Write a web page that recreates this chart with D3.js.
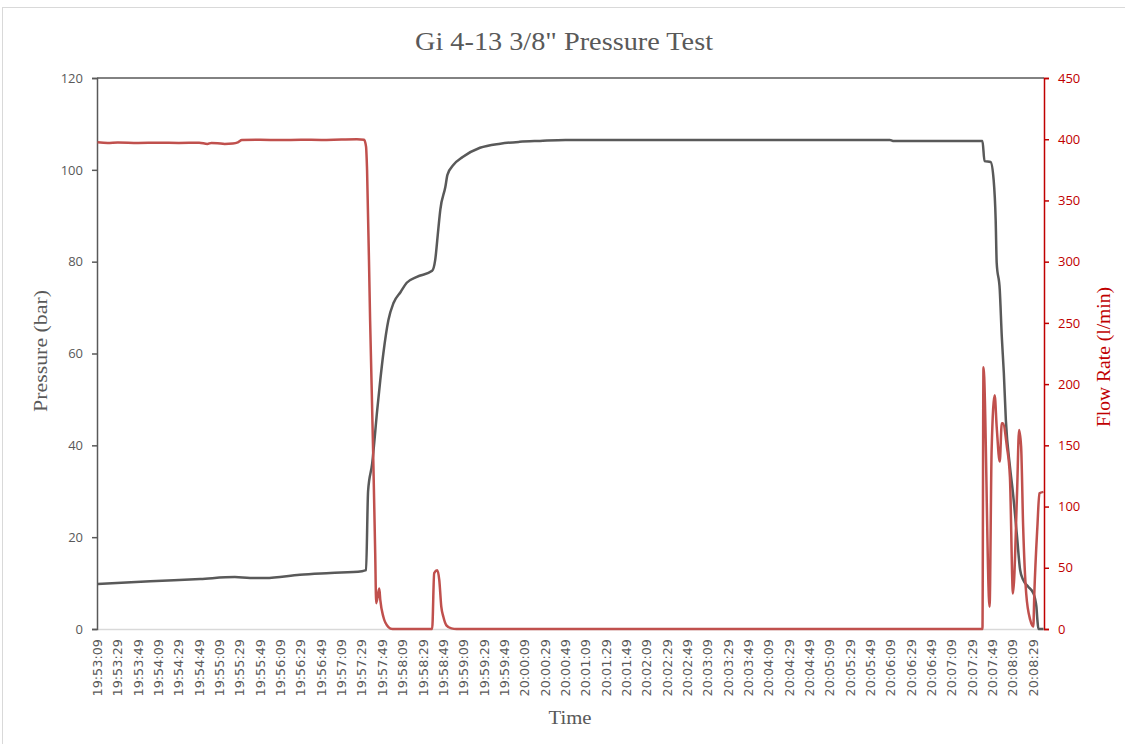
<!DOCTYPE html>
<html>
<head>
<meta charset="utf-8">
<script src="https://cdn.jsdelivr.net/npm/d3@7"></script>
<style>
  html, body { margin: 0; padding: 0; background: #ffffff; }
  svg { display: block; }
</style>
</head>
<body>
<svg id="chart" width="1125" height="744"></svg>
<script>
// ---------- DATA ----------
const chartTitle = "Gi 4-13 3/8\" Pressure Test";
const startTime = "19:53:09";

// x tick labels (every 20 s)
const timeLabels = [
  "19:53:09","19:53:29","19:53:49","19:54:09","19:54:29","19:54:49","19:55:09","19:55:29",
  "19:55:49","19:56:09","19:56:29","19:56:49","19:57:09","19:57:29","19:57:49","19:58:09",
  "19:58:29","19:58:49","19:59:09","19:59:29","19:59:49","20:00:09","20:00:29","20:00:49",
  "20:01:09","20:01:29","20:01:49","20:02:09","20:02:29","20:02:49","20:03:09","20:03:29",
  "20:03:49","20:04:09","20:04:29","20:04:49","20:05:09","20:05:29","20:05:49","20:06:09",
  "20:06:29","20:06:49","20:07:09","20:07:29","20:07:49","20:08:09","20:08:29"
];
const pressureTicks = [0, 20, 40, 60, 80, 100, 120];
const flowTicks = [0, 50, 100, 150, 200, 250, 300, 350, 400, 450];

// Pressure (bar): seconds after 19:53:09, value
const pressureSec = [0, 52, 101, 135, 150, 165, 199, 229, 260, 264, 266, 270, 275, 278, 281, 286, 291, 298, 304, 314, 329,
  332, 335, 337, 342, 344, 350, 359, 376, 396, 415, 435, 460, 779, 782, 870, 872, 878, 881, 883, 884, 887, 889, 891,
  893, 897, 900, 904, 907, 910, 915, 920, 923, 924, 925, 930];
const pressureVal = [9.8, 10.4, 10.9, 11.3, 11.1, 11.1, 11.8, 12.2, 12.6, 12.8, 30, 36, 47.7, 54.2, 60, 67.3, 71, 73.4, 75.4, 76.7, 78,
  80.4, 87, 91.3, 96.3, 98.9, 101.1, 102.8, 104.8, 105.7, 106.1, 106.3, 106.5, 106.5, 106.3, 106.3, 101.9, 101.7, 97.8, 89, 79.7, 73.9, 63.7, 55.8,
  45.5, 35.4, 29.6, 20.1, 12.9, 10.7, 9.2, 7.8, 4.9, 2, 0, 0];

// Flow rate (l/min): seconds after 19:53:09, value
const flowSec = [0, 10, 20, 40, 60, 80, 100, 108, 112, 118, 125, 133, 138, 142, 160, 180, 200, 220, 240, 255, 262,
  264, 265, 268, 271, 273, 274, 277, 278, 281, 286, 290, 329, 331, 334, 336, 338, 340, 343, 348, 353,
  870, 871, 877, 879, 882, 884, 887, 889, 890, 894, 897, 900, 904, 906, 908, 910, 913, 917, 920, 921, 924, 926, 930];
const flowVal = [397.5, 397, 397.3, 397, 397.2, 397, 397.2, 396.2, 397, 396.8, 396.2, 396.5, 397.5, 399.3, 399.5, 399.3, 399.6, 399.4, 399.8, 400, 399.6,
  394, 375, 252, 143.6, 62, 21, 33, 23.7, 10, 1.6, 0, 0, 45.7, 48, 40, 18, 10, 3, 0.5, 0,
  0, 213.7, 18.2, 146, 191, 165, 136.7, 168, 168, 149, 124, 29, 110.8, 162.5, 149, 83.6, 29, 7.3, 2, 29, 83.6, 110.8, 112];

// ---------- LAYOUT ----------
const W = 1125, H = 744;
const plot = { left: 97, right: 1044, top: 78, bottom: 629 };
const grayText = "#595959";
const redAxis = "#C00000";
const pressureColor = "#595959";
const flowColor = "#C0504D";

const svg = d3.select("#chart");

// chart frame
svg.append("rect").attr("x", 2.5).attr("y", 7.5).attr("width", W + 10).attr("height", H + 10)
  .attr("fill", "#ffffff").attr("stroke", "#d9d9d9").attr("stroke-width", 1);

const x = d3.scaleLinear().domain([-0.5, 930.5]).range([plot.left, plot.right]);
const yL = d3.scaleLinear().domain([0, 120]).range([plot.bottom, plot.top]);
const yR = d3.scaleLinear().domain([0, 450]).range([plot.bottom, plot.top]);

// Title
svg.append("text").attr("x", 564).attr("y", 50).attr("text-anchor", "middle")
  .attr("font-family", "'Liberation Serif', serif").attr("font-size", 25)
  .attr("textLength", 298).attr("lengthAdjust", "spacingAndGlyphs")
  .attr("fill", grayText).text(chartTitle);

// bottom category axis line (light gray)
svg.append("line").attr("x1", plot.left).attr("x2", plot.right)
  .attr("y1", plot.bottom + 0.5).attr("y2", plot.bottom + 0.5)
  .attr("stroke", "#d9d9d9").attr("stroke-width", 1.5);

// top secondary axis line (dark gray)
svg.append("line").attr("x1", plot.left).attr("x2", plot.right)
  .attr("y1", plot.top).attr("y2", plot.top)
  .attr("stroke", grayText).attr("stroke-width", 1.5);

// x tick labels
const xLab = svg.append("g");
timeLabels.forEach((lab, i) => {
  const px = x(i * 20) + 4.5;
  xLab.append("text")
    .attr("transform", `translate(${px},639) rotate(-90)`)
    .attr("text-anchor", "end")
    .attr("font-family", "'DejaVu Sans', sans-serif").attr("font-size", 12.8)
    .attr("fill", grayText).text(lab);
});

// left axis
const leftAxis = d3.axisLeft(yL).tickValues(pressureTicks).tickSize(5).tickPadding(9);
const gL = svg.append("g").attr("transform", `translate(${plot.left},0)`).call(leftAxis);
gL.select(".domain").attr("stroke", grayText).attr("stroke-width", 1.5);
gL.selectAll(".tick line").attr("stroke", grayText).attr("stroke-width", 1.5);
gL.selectAll(".tick text").attr("fill", grayText)
  .attr("font-family", "'Open Sans', sans-serif").attr("font-size", 13);

// right axis
const rightAxis = d3.axisRight(yR).tickValues(flowTicks).tickSize(5).tickPadding(9);
const gR = svg.append("g").attr("transform", `translate(${plot.right},0)`).call(rightAxis);
gR.select(".domain").attr("stroke", redAxis).attr("stroke-width", 1.5);
gR.selectAll(".tick line").attr("stroke", redAxis).attr("stroke-width", 1.5);
gR.selectAll(".tick text").attr("fill", redAxis)
  .attr("font-family", "'Open Sans', sans-serif").attr("font-size", 13);

// lines
const pressureData = pressureSec.map((s, i) => [s, pressureVal[i]]);
const flowData = flowSec.map((s, i) => [s, flowVal[i]]);

svg.append("path").datum(pressureData)
  .attr("fill", "none").attr("stroke", pressureColor).attr("stroke-width", 2.5)
  .attr("stroke-linejoin", "round")
  .attr("d", d3.line().x(d => x(d[0])).y(d => yL(d[1])).curve(d3.curveMonotoneX));

svg.append("path").datum(flowData)
  .attr("fill", "none").attr("stroke", flowColor).attr("stroke-width", 2.5)
  .attr("stroke-linejoin", "round")
  .attr("d", d3.line().x(d => x(d[0])).y(d => yR(d[1])).curve(d3.curveMonotoneX));

// axis titles
svg.append("text").attr("x", 570).attr("y", 724).attr("text-anchor", "middle")
  .attr("font-family", "'Liberation Serif', serif").attr("font-size", 19)
  .attr("textLength", 43).attr("lengthAdjust", "spacingAndGlyphs")
  .attr("fill", grayText).text("Time");

svg.append("text").attr("transform", "translate(47,351) rotate(-90)").attr("text-anchor", "middle")
  .attr("font-family", "'Liberation Serif', serif").attr("font-size", 19)
  .attr("textLength", 122).attr("lengthAdjust", "spacingAndGlyphs")
  .attr("fill", grayText).text("Pressure (bar)");

svg.append("text").attr("transform", "translate(1110,357) rotate(-90)").attr("text-anchor", "middle")
  .attr("font-family", "'Liberation Serif', serif").attr("font-size", 19)
  .attr("textLength", 140).attr("lengthAdjust", "spacingAndGlyphs")
  .attr("fill", redAxis).text("Flow Rate (l/min)");
</script>
</body>
</html>
